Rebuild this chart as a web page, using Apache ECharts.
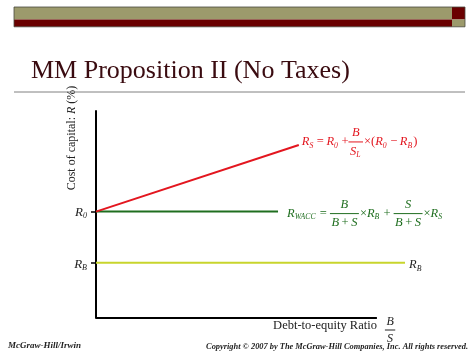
<!DOCTYPE html>
<html><head><meta charset="utf-8">
<script src="https://cdn.jsdelivr.net/npm/echarts@6/dist/echarts.min.js"></script>
<style>html,body{margin:0;padding:0;background:#fff}#c{width:474px;height:355px}</style>
</head><body><div id="c"></div>
<script>
// ---- data ----
const R0 = 5.14;            // unlevered cost of capital level
const RB = 2.67;            // cost of debt level
const xAxisLine = [[0, 0], [10, 0]];
const rsLine   = [[0, 5.14], [7.22, 8.36]];
const waccLine = [[0, 5.14], [6.48, 5.14]];
const rbLine   = [[0, 2.67], [11.0, 2.67]];
const yTickValues = [R0, RB];
const titleText = 'MM Proposition II (No Taxes)';
const xName = 'Debt-to-equity Ratio';
const footerLeft = 'McGraw-Hill/Irwin';
const footerRight = 'Copyright \u00a9 2007 by The McGraw-Hill Companies, Inc. All rights reserved.';

const FONT = '"Liberation Serif", "Times New Roman", serif';
const RED = '#e3161f', GREEN = '#1f6e1f', YEL = '#c8d52c';

const chart = echarts.init(document.getElementById('c'), null, {renderer: 'canvas'});
chart.setOption({
  animation: false,
  grid: {left: 96, top: 111, right: 69, bottom: 37, containLabel: false},
  xAxis: {type: 'value', min: 0, max: 11,
    axisLine: {show: false},
    axisTick: {show: false}, axisLabel: {show: false}, splitLine: {show: false}},
  yAxis: {type: 'value', min: 0, max: 10,
    axisLine: {show: true, lineStyle: {color: '#000', width: 2}},
    axisTick: {show: true, customValues: yTickValues, length: 5, lineStyle: {color: '#000', width: 1.5}},
    axisLabel: {show: false}, splitLine: {show: false}},
  series: [
    {type: 'line', data: xAxisLine, symbol: 'none', lineStyle: {color: '#000', width: 2}, z: 4},
    {type: 'line', data: rsLine, symbol: 'none', lineStyle: {color: RED, width: 2}, z: 3},
    {type: 'line', data: waccLine, symbol: 'none', lineStyle: {color: GREEN, width: 2}, z: 2},
    {type: 'line', data: rbLine, symbol: 'none', lineStyle: {color: YEL, width: 2}, z: 2}
  ]
});

// ---- text layout helpers ----
const mctx = document.createElement('canvas').getContext('2d');
function fnt(size, italic, bold) { return (italic ? 'italic ' : '') + (bold ? 'bold ' : '') + size + 'px ' + FONT; }
function tw(text, size, italic) { mctx.font = fnt(size, italic); return mctx.measureText(text).width; }
function txt(text, x, y, size, italic, color, align) {
  return {type: 'text', x: x, y: y, style: {text: text, font: fnt(size, italic), fill: color, align: align || 'left', verticalAlign: 'middle'}};
}
// tokens: {v:'R', s:'0'} variable w/ subscript, {o:' = '} operator, {f:[num, den]} fraction
function place(tokens, x, y, size, color, out) {
  let cx = x;
  tokens.forEach(t => {
    if (t.v !== undefined) {
      if (out) out.push(txt(t.v, cx, y, size, true, color));
      cx += tw(t.v, size, true);
      if (t.s) {
        const ss = size * 0.62;
        if (out) out.push(txt(t.s, cx, y + size * 0.3, ss, true, color));
        cx += tw(t.s, ss, true) + 1;
      }
    } else if (t.o !== undefined) {
      if (out) out.push(txt(t.o, cx, y, size, false, color));
      cx += tw(t.o, size, false);
    } else if (t.f) {
      const wn = place(t.f[0], 0, 0, size, color, null);
      const wd = place(t.f[1], 0, 0, size, color, null);
      const W = Math.max(wn, wd) + 3;
      if (out) {
        place(t.f[0], cx + (W - wn) / 2, y - size * 0.72, size, color, out);
        place(t.f[1], cx + (W - wd) / 2, y + size * 0.75, size, color, out);
        out.push({type: 'line', shape: {x1: cx, y1: y, x2: cx + W, y2: y}, style: {stroke: color, lineWidth: 1}});
      }
      cx += W + 1;
    }
  });
  return cx - x;
}

const g = [];
// top decorative bar
g.push({type: 'rect', shape: {x: 14, y: 7, width: 438, height: 12.5}, style: {fill: '#9c9a6c'}});
g.push({type: 'rect', shape: {x: 14, y: 19.5, width: 438, height: 7.3}, style: {fill: '#6a0000'}});
g.push({type: 'rect', shape: {x: 452, y: 7, width: 13, height: 12.5}, style: {fill: '#6a0000'}});
g.push({type: 'rect', shape: {x: 452, y: 19.5, width: 13, height: 7.3}, style: {fill: '#9c9a6c'}});
g.push({type: 'rect', shape: {x: 14, y: 7, width: 451, height: 19.8}, style: {fill: null, stroke: '#4a4a40', lineWidth: 0.8}});
// title
g.push({type: 'text', x: 31, y: 71, style: {text: titleText, font: '26px ' + FONT, fill: '#3a0b10', align: 'left', verticalAlign: 'middle'}});
g.push({type: 'line', shape: {x1: 14, y1: 92, x2: 465, y2: 92}, style: {stroke: '#808080', lineWidth: 1}});

// y axis name (rotated)
g.push({type: 'text', x: 72, y: 138, rotation: Math.PI / 2,
  style: {text: '{n|Cost of capital: }{i|R}{n| (%)}', align: 'center', verticalAlign: 'middle', fill: '#222',
    rich: {n: {font: '12px ' + FONT, fill: '#222'}, i: {font: 'italic 12px ' + FONT, fill: '#222'}}}});

// y tick labels
const p0 = chart.convertToPixel({gridIndex: 0}, [0, R0]);
const pB = chart.convertToPixel({gridIndex: 0}, [0, RB]);
const lab0 = [{v: 'R', s: '0'}], labB = [{v: 'R', s: 'B'}];
place(lab0, p0[0] - 8 - place(lab0, 0, 0, 13, '#222', null), p0[1] + 0.5, 13, '#222', g);
place(labB, pB[0] - 8 - place(labB, 0, 0, 13, '#222', null), pB[1] + 1.5, 13, '#222', g);

const TS = '\u2009';
// red equation: R_S = R_0 + B/S_L x (R_0 - R_B)
const eRS = chart.convertToPixel({gridIndex: 0}, rsLine[rsLine.length - 1]);
place([{v: 'R', s: 'S'}, {o: TS + '=' + TS}, {v: 'R', s: '0'}, {o: TS + '+'}, {f: [[{v: 'B'}], [{v: 'S', s: 'L'}]]},
  {o: '\u00d7('}, {v: 'R', s: '0'}, {o: TS + '\u2212' + TS}, {v: 'R', s: 'B'}, {o: ')'}], eRS[0] + 3, eRS[1] - 3, 12.5, RED, g);

// green equation: R_WACC = B/(B+S) x R_B + S/(B+S) x R_S
const eW = chart.convertToPixel({gridIndex: 0}, waccLine[waccLine.length - 1]);
place([{v: 'R', s: 'WACC'}, {o: ' = '}, {f: [[{v: 'B'}], [{v: 'B'}, {o: TS + '+' + TS}, {v: 'S'}]]},
  {o: '\u00d7'}, {v: 'R', s: 'B'}, {o: ' + '}, {f: [[{v: 'S'}], [{v: 'B'}, {o: TS + '+' + TS}, {v: 'S'}]]},
  {o: '\u00d7'}, {v: 'R', s: 'S'}], eW[0] + 9, eW[1] + 2, 12.5, GREEN, g);

// yellow label
const eB = chart.convertToPixel({gridIndex: 0}, rbLine[rbLine.length - 1]);
place([{v: 'R', s: 'B'}], eB[0] + 4, eB[1] + 2, 12.5, '#222', g);

// x axis name + B/S
const xEnd = chart.convertToPixel({gridIndex: 0}, xAxisLine[xAxisLine.length - 1]);
g.push(txt(xName, xEnd[0], xEnd[1] + 8, 12.5, false, '#222', 'right'));
place([{f: [[{v: 'B'}], [{v: 'S'}]]}], xEnd[0] + 8, xEnd[1] + 12, 12, '#222', g);

// footer
g.push({type: 'text', x: 8, y: 346, style: {text: footerLeft, font: 'italic bold 9px ' + FONT, fill: '#222', align: 'left', verticalAlign: 'middle'}});
g.push({type: 'text', x: 468, y: 347, style: {text: footerRight, font: 'italic bold 8.4px ' + FONT, fill: '#222', align: 'right', verticalAlign: 'middle'}});

chart.setOption({graphic: {elements: g}});
</script>
</body></html>
